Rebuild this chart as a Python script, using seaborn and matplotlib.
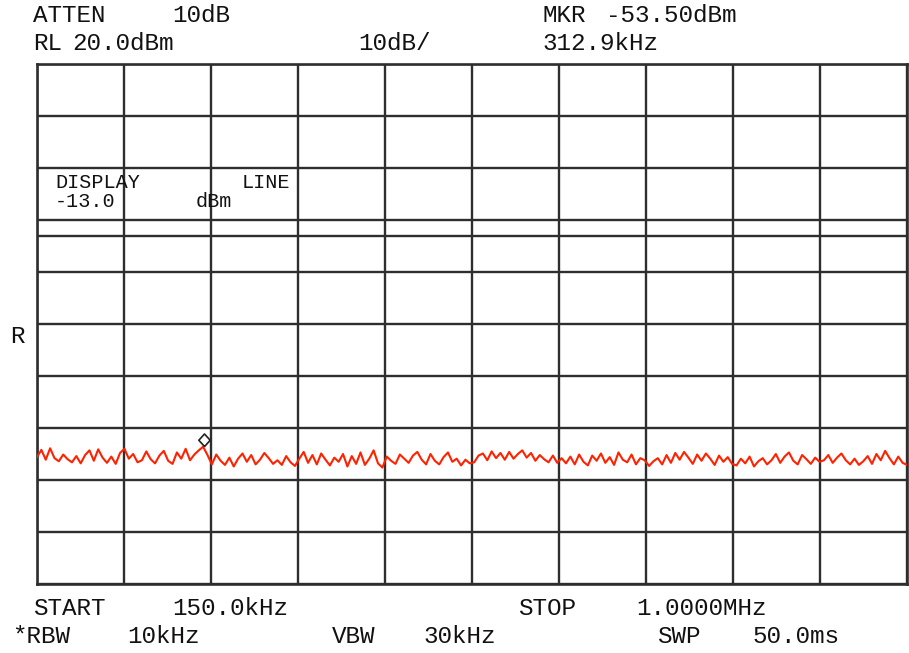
import numpy as np
import seaborn as sns
import matplotlib.pyplot as plt

# sweep settings
start_khz = 150.0
stop_khz = 1000.0
ref_level = 20.0
db_per_div = 10.0
n_div = 10
display_line = -13.0
mkr_khz = 312.9
mkr_dbm = -53.50

# trace (dBm), one row per horizontal division
trace = [
    -55.6, -54.2, -56.1, -53.9, -55.8, -56.4, -55.1, -56.0, -56.6, -55.4, -56.8, -55.2, -54.3, -56.3, -54.1, -55.7, -56.7, -55.5, -56.9, -54.8,
    -54.0, -55.9, -55.0, -56.6, -56.2, -54.5, -56.0, -56.8, -55.3, -54.4, -56.3, -56.9, -54.7, -55.9, -54.0, -56.2, -55.1, -54.3, -53.6, -55.2,
    -57.0, -55.1, -56.3, -57.1, -55.7, -57.4, -55.9, -54.9, -56.5, -55.2, -57.0, -56.1, -54.8, -55.8, -56.9, -56.2, -57.1, -55.4, -56.6, -57.3,
    -55.9, -54.6, -56.7, -55.2, -57.0, -54.9, -56.1, -57.2, -55.7, -56.5, -55.0, -57.4, -55.4, -56.9, -54.7, -57.1, -55.9, -54.3, -56.8, -57.6,
    -55.5, -56.3, -56.9, -55.1, -55.9, -56.7, -55.3, -54.6, -56.1, -57.0, -55.0, -56.3, -57.0, -55.6, -54.7, -56.5, -55.9, -57.2, -56.1, -56.8,
    -56.6, -55.3, -54.9, -56.2, -54.5, -55.8, -54.8, -56.1, -54.6, -55.9, -55.0, -54.3, -55.7, -54.8, -56.3, -55.2, -56.0, -56.6, -55.3, -56.7,
    -55.8, -56.8, -55.5, -57.0, -55.1, -56.5, -57.2, -55.3, -56.3, -54.9, -56.7, -55.6, -57.1, -54.7, -56.1, -56.6, -55.1, -57.0, -55.8, -56.2,
    -57.3, -56.4, -55.8, -57.0, -55.2, -56.7, -54.8, -56.1, -54.6, -55.7, -56.9, -55.1, -56.3, -54.9, -55.9, -57.1, -55.3, -56.5, -55.6, -56.9,
    -57.2, -55.9, -56.8, -55.5, -57.4, -56.4, -55.8, -57.0, -56.2, -55.0, -56.7, -55.5, -54.7, -56.3, -57.0, -55.2, -56.0, -56.9, -55.7, -56.5,
    -56.2, -55.2, -56.7, -55.7, -54.9, -56.2, -57.0, -55.9, -57.1, -56.4, -55.4, -56.9, -55.0, -56.2, -54.4, -55.8, -57.0, -55.5, -56.7, -57.1,
]

# screen annotations: (text, left px, baseline px)
header = [
    ("ATTEN", 33, 22), ("10dB", 172, 22), ("MKR", 542, 22), ("-53.50dBm", 606, 22),
    ("RL", 33, 50), ("20.0dBm", 72, 50), ("10dB/", 358, 50), ("312.9kHz", 542, 50),
]
footer = [
    ("START", 33, 615), ("150.0kHz", 172, 615), ("STOP", 518, 615), ("1.0000MHz", 636, 615),
    ("*RBW", 12, 643), ("10kHz", 127, 643), ("VBW", 332, 643), ("30kHz", 423, 643),
    ("SWP", 657, 643), ("50.0ms", 752, 643),
]
dl_text = [("DISPLAY", 55, 188), ("LINE", 242, 188), ("-13.0", 55, 207), ("dBm", 196, 207)]

W, H = 909, 653
GRID = '#2e2e2e'

sns.set_style("white")
plt.rcParams['font.family'] = ['Liberation Mono', 'DejaVu Sans Mono']

fig = plt.figure(figsize=(W / 100, H / 100), dpi=100)
ax = fig.add_axes([37 / W, 1 - 584 / H, (907 - 37) / W, (584 - 64) / H])

freqs = np.linspace(start_khz, stop_khz, len(trace))
bottom = ref_level - n_div * db_per_div

ax.set_xlim(start_khz, stop_khz)
ax.set_ylim(bottom, ref_level)
ax.set_xticks(np.linspace(start_khz, stop_khz, n_div + 1))
ax.set_yticks(np.arange(bottom, ref_level + 1, db_per_div))
ax.grid(True, color=GRID, lw=1.7)
ax.tick_params(length=0, labelbottom=False, labelleft=False)
for s in ax.spines.values():
    s.set_color(GRID)
    s.set_linewidth(1.9)

# display line
ax.axhline(display_line, color=GRID, lw=1.7, zorder=1)

sns.lineplot(x=freqs, y=trace, ax=ax, color='#ff2200', lw=1.5, zorder=3)

# marker diamond sitting on the trace point
mk = [(0, 0), (-0.5, 0.55), (0, 1.1), (0.5, 0.55), (0.1, 0.1), (0, 0)]
ax.plot([mkr_khz], [mkr_dbm], marker=mk, ms=18, mfc='white', mec='#222222', mew=1.2, zorder=4)

def put(items, size=17.5):
    for txt, x, y in items:
        fig.text(x / W, 1 - y / H, txt, ha='left', va='baseline', fontsize=size, color='#111111')

put(header)
put(footer)
put(dl_text, size=14.5)
fig.text(10 / W, 1 - 343 / H, "R", ha='left', va='baseline', fontsize=17.5, color='#111111')

fig.savefig("out.png", dpi=100)
